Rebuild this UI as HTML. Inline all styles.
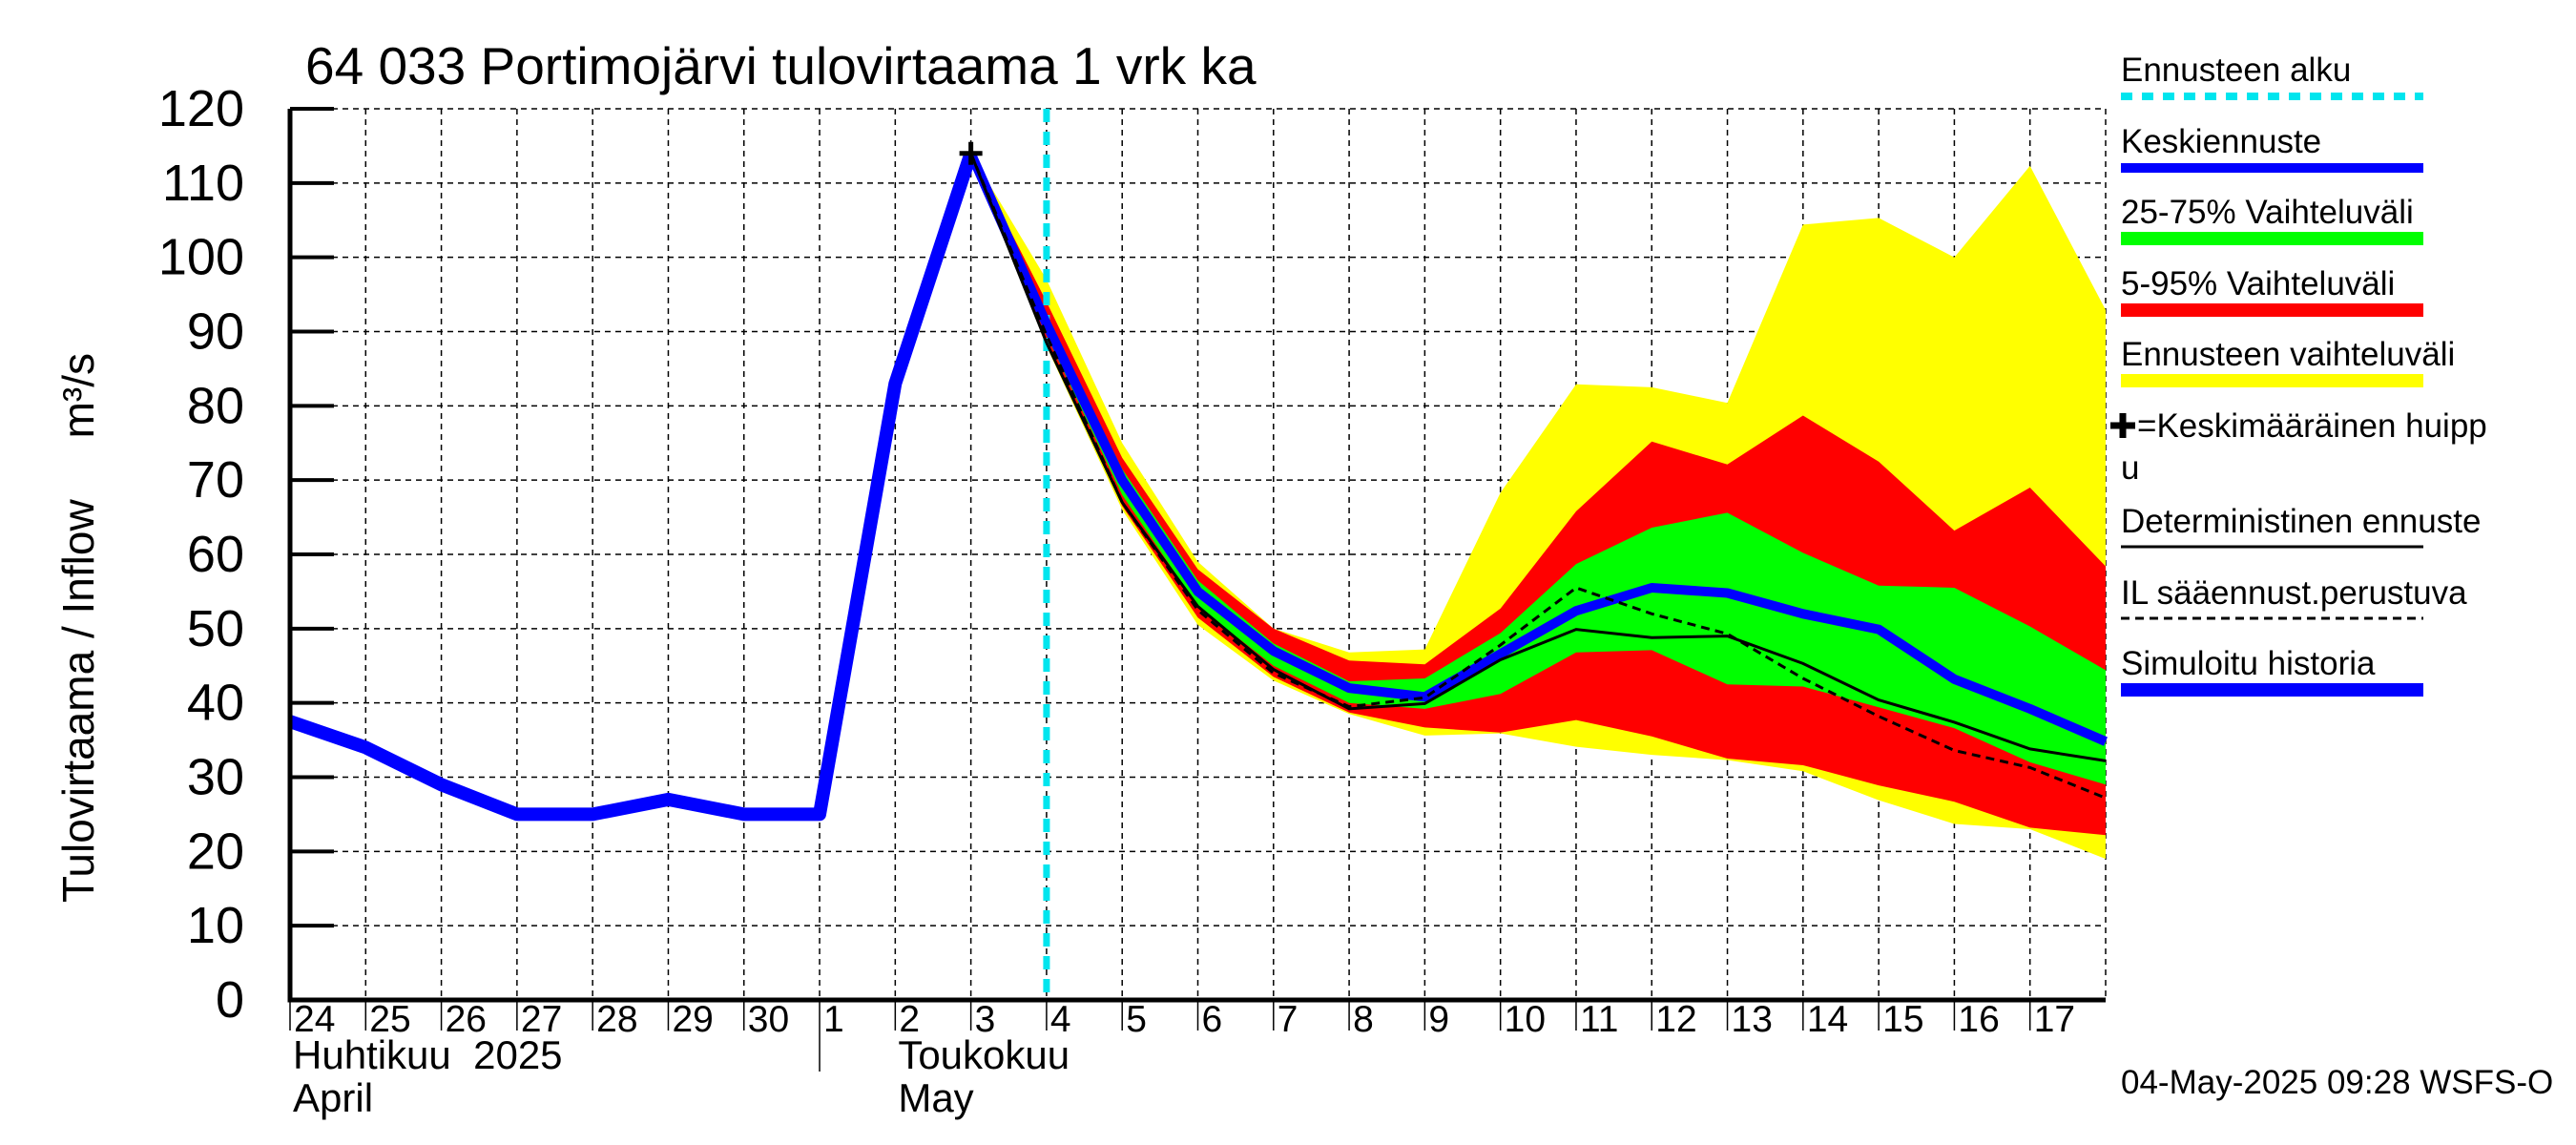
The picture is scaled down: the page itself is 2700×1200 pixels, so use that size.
<!DOCTYPE html>
<html><head><meta charset="utf-8"><style>
html,body{margin:0;padding:0;background:#fff;}
svg{display:block;font-family:"Liberation Sans",sans-serif;}
</style></head><body>
<svg id="chart" width="2700" height="1200" viewBox="0 0 2700 1200" xmlns="http://www.w3.org/2000/svg">
<rect width="2700" height="1200" fill="#fff"/>
<text x="320" y="88" font-size="55">64 033 Portimojärvi tulovirtaama 1 vrk ka</text>
<text transform="translate(98,658) rotate(-90)" text-anchor="middle" font-size="46" xml:space="preserve" style="white-space:pre">Tulovirtaama / Inflow     m³/s</text>
<g id="grid"></g>
<g id="bands"></g>
<g id="lines"></g>
<g id="axes"></g>
<g id="legend"></g>
<text x="2223" y="1146" font-size="35">04-May-2025 09:28 WSFS-O</text>
</svg>
<script>
const dayLabels=["24","25","26","27","28","29","30","1","2","3","4","5","6","7","8","9","10","11","12","13","14","15","16","17"];
const yTicks=[0,10,20,30,40,50,60,70,80,90,100,110,120];
const historyDays=[0,1,2,3,4,5,6,7,8,9];
const historyVals=[37.5,34,29,25,25,27,25,25,83,114];
const fcDays=[9,10,11,12,13,14,15,16,17,18,19,20,21,22,23,24];
const medianVals=[114,91,70,55,47,42,40.8,46.6,52.4,55.5,54.8,52,49.9,43.2,39.2,34.8];
const yellowTop=[114,97,75,59,50,46.8,47.2,68.3,82.9,82.5,80.4,104.4,105.3,100,112.3,92.9];
const yellowBot=[114,88,66,50.5,43,38.5,35.6,35.9,34.1,33,32.3,30.8,26.9,23.7,23,19];
const redTop=[114,94,73,58,50,45.7,45.2,52.7,65.8,75.2,72.1,78.7,72.5,63.2,69,58.4];
const redBot=[114,88.5,66.5,51.5,43.5,38.7,36.7,36,37.7,35.5,32.5,31.6,28.9,26.7,23.2,22.2];
const greenTop=[114,92,71.5,56.5,48,42.9,43.3,49.4,58.7,63.6,65.6,60.2,55.8,55.5,50.3,44.4];
const greenBot=[114,89.5,68,53,45,40,39.2,41.2,46.8,47.1,42.5,42.2,39.4,36.6,32,29];
const detVals=[114,88.5,67,53,44.5,39.2,39.9,45.8,49.9,48.8,49,45.3,40.4,37.4,33.8,32.2];
const ilVals=[114,89.5,67,52.5,44,39.5,40.7,47.8,55.5,52,49.3,43.3,38.2,33.6,31.3,27.2];
const forecastStartDay=10;
const peakDay=9, peakVal=114;

const X0=304,X1=2207,Y0=1048,Y1=114,NDAYS=24,YMAX=120;
const sx=d=>X0+(X1-X0)*d/NDAYS;
const sy=v=>Y0-(Y0-Y1)*v/YMAX;
const NS="http://www.w3.org/2000/svg";
function mk(parent,tag,attrs){const e=document.createElementNS(NS,tag);for(const k in attrs)e.setAttribute(k,attrs[k]);document.getElementById(parent).appendChild(e);return e;}
const pts=(ds,vs)=>ds.map((d,i)=>sx(d).toFixed(1)+","+sy(vs[i]).toFixed(1)).join(" ");

for(let i=1;i<=NDAYS;i++){
  const g=mk('grid','line',{x1:sx(i),x2:sx(i),y1:Y1,y2:Y0,stroke:'#000','stroke-width':1.5,'stroke-dasharray':'6,5'});
  
  
}
yTicks.forEach(v=>{ if(v===0)return;
  const g=mk('grid','line',{x1:X0,x2:X1,y1:sy(v),y2:sy(v),stroke:'#000','stroke-width':1.5,'stroke-dasharray':'6,5'});
  
  
});
function band(top,bot,col,name){
  const d=pts(fcDays,top)+" "+pts(fcDays.slice().reverse(),bot.slice().reverse());
  const p=mk('bands','polygon',{points:d,fill:col});
  
  
}
band(yellowTop,yellowBot,'#ffff00','band-total-range');
band(redTop,redBot,'#ff0000','band-5-95');
band(greenTop,greenBot,'#00ff00','band-25-75');
let fs=mk('lines','line',{x1:sx(forecastStartDay),x2:sx(forecastStartDay),y1:Y1,y2:Y0,stroke:'#00e5ee','stroke-width':7,'stroke-dasharray':'14,10'});


let l;
l=mk('lines','polyline',{points:pts(historyDays,historyVals),fill:'none',stroke:'#0000ff','stroke-width':14,'stroke-linejoin':'round'});


l=mk('lines','polyline',{points:pts(fcDays,medianVals),fill:'none',stroke:'#0000ff','stroke-width':10,'stroke-linejoin':'round'});


l=mk('lines','polyline',{points:pts(fcDays,detVals),fill:'none',stroke:'#000','stroke-width':3});


l=mk('lines','polyline',{points:pts(fcDays,ilVals),fill:'none',stroke:'#000','stroke-width':3,'stroke-dasharray':'9,6'});


l=mk('lines','path',{d:`M${sx(peakDay)-12},${sy(peakVal)}h24M${sx(peakDay)},${sy(peakVal)-12}v24`,stroke:'#000','stroke-width':5});


l=mk('axes','path',{d:`M${X0},${Y1}V${Y0}H${X1}`,fill:'none',stroke:'#000','stroke-width':5});


yTicks.forEach(v=>{
  const t=mk('axes','line',{x1:X0,x2:X0+46,y1:sy(v),y2:sy(v),stroke:'#000','stroke-width':4});
  
  
  const tx=mk('axes','text',{x:256,y:sy(v)+18,'text-anchor':'end','font-size':54});
  tx.textContent=v;
  
  
});
dayLabels.forEach((s,i)=>{
  const t=mk('axes','line',{x1:sx(i),x2:sx(i),y1:Y0,y2:i===7?1123:1080,stroke:'#000','stroke-width':1.5});
  
  
  const tx=mk('axes','text',{x:sx(i)+4,y:1081,'font-size':39});
  tx.textContent=s;
  
  
});
[["Huhtikuu  2025",0,1120],["April",0,1165],["Toukokuu",8,1120],["May",8,1165]].forEach(a=>{
  const tx=mk('axes','text',{x:sx(a[1])+3,y:a[2],'font-size':42});
  tx.setAttribute('xml:space','preserve');
  tx.style.whiteSpace='pre';
  tx.textContent=a[0];
  
  
});
const LX=2223,LX2=2540;
const legendItems=[
 ["Ennusteen alku",85,101,'#00e5ee',8,'12,10'],
 ["Keskiennuste",160,176,'#0000ff',10,null],
 ["25-75% Vaihteluväli",234,250,'#00ff00',14,null],
 ["5-95% Vaihteluväli",309,325,'#ff0000',14,null],
 ["Ennusteen vaihteluväli",383,399,'#ffff00',14,null],
 ["Deterministinen ennuste",558,573,'#000',3,null],
 ["IL sääennust.perustuva",633,648,'#000',3,'9,6'],
 ["Simuloitu historia",707,723,'#0000ff',14,null]];
legendItems.forEach(it=>{
  const t=mk('legend','text',{x:LX,y:it[1],'font-size':35});
  t.textContent=it[0];
  
  
  const a={x1:LX,x2:LX2,y1:it[2],y2:it[2],stroke:it[3],'stroke-width':it[4]};
  if(it[5])a['stroke-dasharray']=it[5];
  const s=mk('legend','line',a);
  
  
});
let pk=mk('legend','path',{d:"M2212,446h26M2225,433v26",stroke:'#000','stroke-width':7});


let pt=mk('legend','text',{x:2240,y:458,'font-size':35});
pt.textContent="=Keskimääräinen huipp";


pt=mk('legend','text',{x:2223,y:502,'font-size':35});
pt.textContent="u";


</script>
</body></html>
